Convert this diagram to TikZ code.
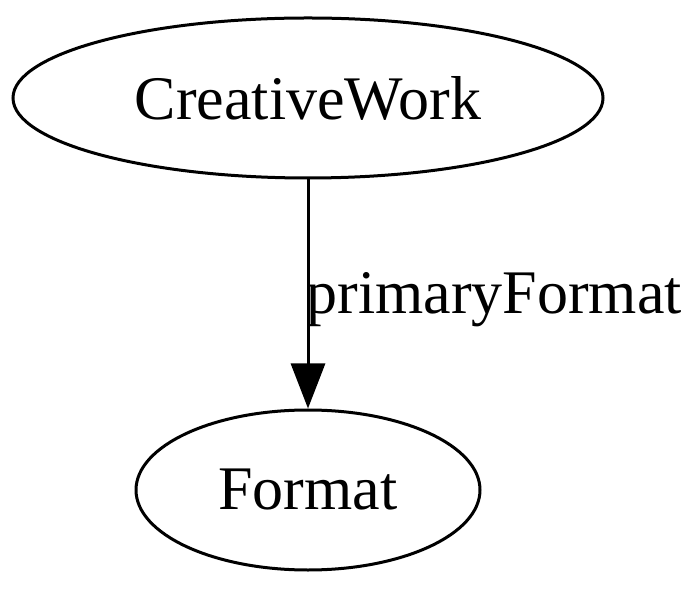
\documentclass[tikz,border=0pt]{standalone}
\usepackage{fontspec}
\setmainfont{Liberation Serif}
\usetikzlibrary{shapes.geometric,arrows.meta}
\tikzset{
    classnode/.style={draw, ellipse, line width=3pt, inner sep=0pt, font=\fontsize{62}{62}\selectfont},
    propedge/.style={line width=3pt, -{Triangle[length=45pt,width=34pt]}},
    proplabel/.style={inner sep=0pt, font=\fontsize{62}{62}\selectfont}
}
\begin{document}
\begin{tikzpicture}[x=1pt,y=1pt]
    % Fix the page size
    \useasboundingbox (0,0) rectangle (700,589);

    % Classes
    \node[classnode, minimum width=590pt, minimum height=160pt] (cw) at (308,491) {CreativeWork};
    \node[classnode, minimum width=344pt, minimum height=160pt] (fmt) at (308,99) {Format};

    % Property
    \draw[propedge] (cw) -- (fmt) node[proplabel, midway, right, xshift=-3pt, yshift=-6pt] (pf) {primaryFormat};
\end{tikzpicture}
\end{document}
